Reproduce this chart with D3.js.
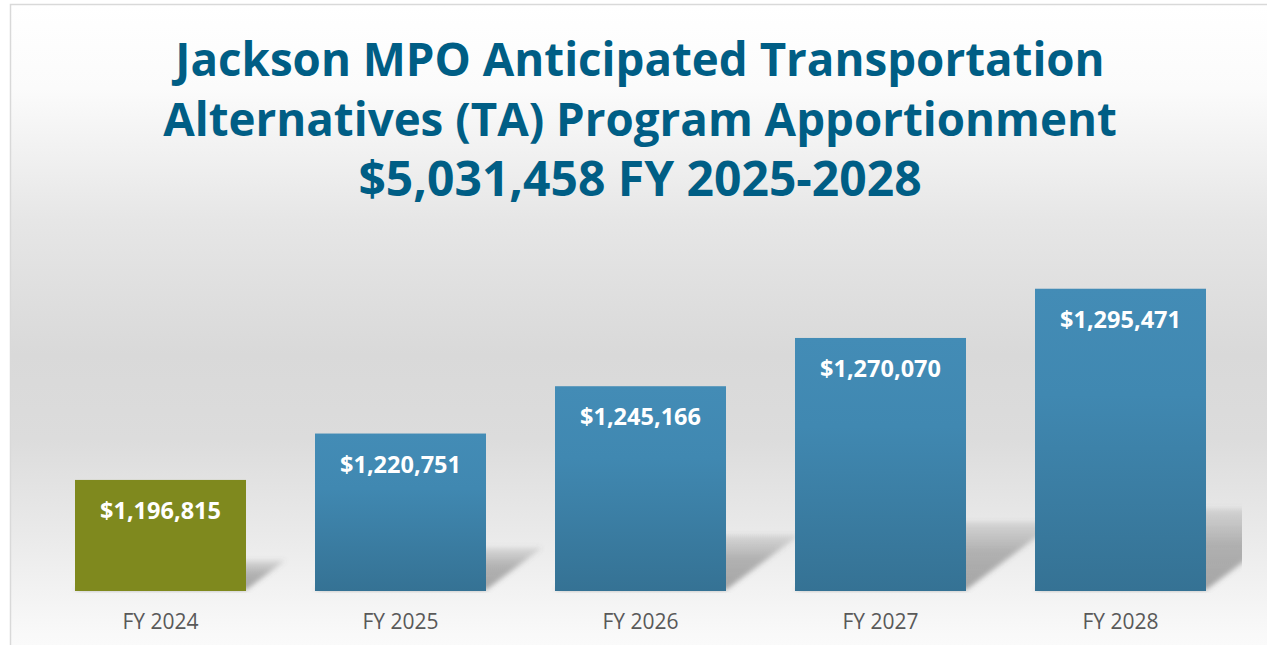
<!DOCTYPE html>
<html>
<head>
<meta charset="utf-8">
<script src="https://cdn.jsdelivr.net/npm/d3@7"></script>
<style>
  html, body { margin: 0; padding: 0; background: #fff; }
  svg { display: block; }
</style>
</head>
<body>
<div id="chart"></div>
<script>
// chart data
var years = ['FY 2024', 'FY 2025', 'FY 2026', 'FY 2027', 'FY 2028'];
var amounts = [1196815, 1220751, 1245166, 1270070, 1295471];
var highlight = ['FY 2024']; // the olive bar
var titleLines = [
  'Jackson MPO Anticipated Transportation',
  'Alternatives (TA) Program Apportionment',
  '$5,031,458 FY 2025-2028'
];

var width = 1267, height = 645,
    plot = {left: 40.5, right: 1240.5, top: 250, bottom: 591};

var svg = d3.select('#chart').append('svg')
    .attr('width', width).attr('height', height);

var defs = svg.append('defs');

// grey wash behind the chart
var bg = defs.append('linearGradient').attr('id', 'bg')
    .attr('x1', 0).attr('y1', 0).attr('x2', 0).attr('y2', 1);
[[0, '#ffffff'], [0.12, '#fbfbfb'], [0.31, '#e6e6e6'], [0.5, '#d9d9d9'], [0.62, '#dcdcdc'],
 [0.77, '#ebebeb'], [0.9, '#f9f9f9'], [1, '#ffffff']].forEach(function(s) {
  bg.append('stop').attr('offset', s[0]).attr('stop-color', s[1]);
});

var barGrad = defs.append('linearGradient').attr('id', 'barBlue')
    .attr('x1', 0).attr('y1', 0).attr('x2', 0).attr('y2', 1);
barGrad.append('stop').attr('offset', 0).attr('stop-color', '#438cb6');
barGrad.append('stop').attr('offset', 0.35).attr('stop-color', '#4088b1');
barGrad.append('stop').attr('offset', 1).attr('stop-color', '#357294');

var shGrad = defs.append('linearGradient').attr('id', 'shade')
    .attr('x1', 0).attr('y1', 0).attr('x2', 0).attr('y2', 1);
shGrad.append('stop').attr('offset', 0).attr('stop-color', '#666').attr('stop-opacity', 0.15);
shGrad.append('stop').attr('offset', 0.45).attr('stop-color', '#666').attr('stop-opacity', 0.45);
shGrad.append('stop').attr('offset', 1).attr('stop-color', '#666').attr('stop-opacity', 0.55);

defs.append('filter').attr('id', 'blur')
    .attr('x', '-20%').attr('y', '-20%').attr('width', '140%').attr('height', '140%')
  .append('feGaussianBlur').attr('stdDeviation', 2.5);

defs.append('clipPath').attr('id', 'plotClip')
  .append('rect').attr('x', 11).attr('y', 0).attr('width', plot.right + 1.5 - 11).attr('height', plot.bottom + 2);

// frame
svg.append('rect')
    .attr('x', 10.5).attr('y', 4.5)
    .attr('width', 1300).attr('height', 700)
    .attr('fill', 'url(#bg)')
    .attr('stroke', '#d9d9d9').attr('stroke-width', 1.5);

// title
svg.append('g').attr('class', 'title')
  .selectAll('text').data(titleLines).enter().append('text')
    .attr('x', 640)
    .attr('y', (d, i) => 76 + i * 60)
    .attr('text-anchor', 'middle')
    .style('font-family', '"Open Sans", "Noto Sans", sans-serif')
    .style('font-weight', 700)
    .style('font-size', (d, i) => i == 2 ? '48px' : '45.7px')
    .style('fill', '#005e85')
    .text(d => d);

var x = d3.scaleBand()
    .domain(years)
    .range([plot.left, plot.right])
    .paddingInner(0.2875)
    .paddingOuter(0.14375);

var y = d3.scaleLinear()
    .domain([1139500, 1315456])
    .range([plot.bottom, plot.top]);

var data = years.map((d, i) => ({year: d, value: amounts[i]}));

// floor shadows, skewed back to the right
svg.append('g').attr('clip-path', 'url(#plotClip)')
  .selectAll('path').data(data).enter().append('path')
    .attr('fill', 'url(#shade)')
    .attr('filter', 'url(#blur)')
    .attr('d', function(d) {
      var x0 = x(d.year), x1 = x0 + x.bandwidth(), b = plot.bottom - 1,
          bh = b - y(d.value), h = bh * 0.27, dx = bh * 0.36;
      return `M${x0},${b}L${x1},${b}L${x1 + dx},${b - h}L${x0 + dx},${b - h}Z`;
    });

var bars = svg.append('g').attr('class', 'bars')
  .selectAll('g').data(data).enter().append('g');

bars.append('rect')
    .attr('x', d => x(d.year))
    .attr('y', d => y(d.value))
    .attr('width', x.bandwidth())
    .attr('height', d => plot.bottom - y(d.value))
    .attr('fill', d => highlight.includes(d.year) ? '#7f891e' : 'url(#barBlue)');

bars.append('text')
    .attr('x', d => x(d.year) + x.bandwidth() / 2)
    .attr('y', d => y(d.value) + 39)
    .attr('text-anchor', 'middle')
    .style('font-family', '"Open Sans", "Noto Sans", sans-serif')
    .style('font-weight', 700)
    .style('font-size', '23.5px')
    .style('fill', '#ffffff')
    .text(d => d3.format('$,')(d.value));

// category axis, no line or ticks
var xAxis = svg.append('g')
    .attr('transform', `translate(0,${plot.bottom})`)
    .call(d3.axisBottom(x).tickSize(0).tickPadding(0));
xAxis.select('.domain').remove();
xAxis.selectAll('text')
    .attr('dy', 0).attr('y', 38)
    .style('font-family', '"Open Sans", "Noto Sans", sans-serif')
    .style('font-size', '21px')
    .style('fill', '#595959');
</script>
</body>
</html>
